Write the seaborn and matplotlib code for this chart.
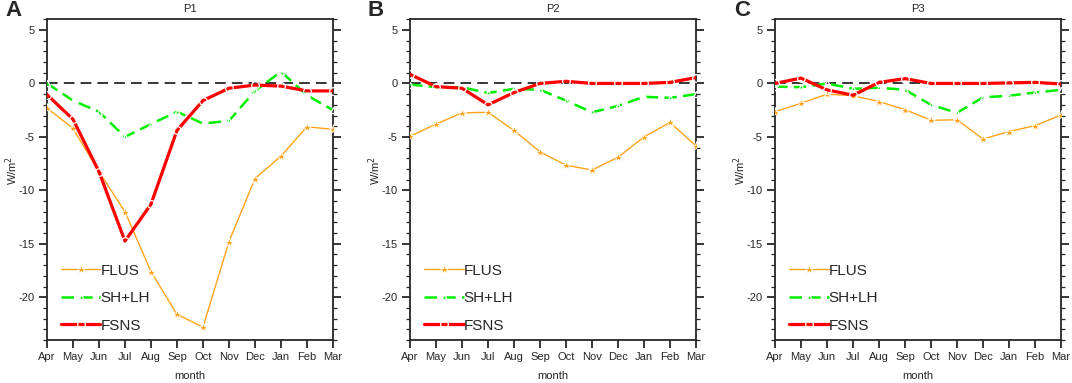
import numpy as np
import pandas as pd
import matplotlib
matplotlib.use("Agg")
import matplotlib.pyplot as plt
import seaborn as sns
from matplotlib.ticker import MultipleLocator

# --- data ---
months = ["Apr", "May", "Jun", "Jul", "Aug", "Sep", "Oct", "Nov", "Dec", "Jan", "Feb", "Mar"]
panels = ["P1", "P2", "P3"]
letters = ["A", "B", "C"]

p1_flus = [-2.3, -4.2, -8.25, -12.0, -17.6, -21.6, -22.8, -14.8, -8.9, -6.8, -4.05, -4.3]
p1_shlh = [0.0, -1.6, -2.65, -5.0, -3.8, -2.65, -3.75, -3.5, -0.7, 1.1, -1.1, -2.5]
p1_fsns = [-1.05, -3.35, -8.25, -14.75, -11.3, -4.4, -1.6, -0.45, -0.15, -0.25, -0.7, -0.7]

p2_flus = [-4.95, -3.8, -2.75, -2.7, -4.4, -6.4, -7.65, -8.1, -6.9, -5.0, -3.65, -5.85]
p2_shlh = [-0.1, -0.35, -0.35, -0.9, -0.5, -0.6, -1.6, -2.7, -2.1, -1.25, -1.35, -1.0]
p2_fsns = [0.85, -0.3, -0.45, -2.0, -0.85, 0.0, 0.2, 0.0, 0.0, 0.0, 0.1, 0.55]

p3_flus = [-2.65, -1.85, -1.0, -1.15, -1.7, -2.45, -3.45, -3.4, -5.2, -4.5, -3.95, -2.95]
p3_shlh = [-0.3, -0.35, 0.0, -0.5, -0.4, -0.6, -2.0, -2.75, -1.3, -1.15, -0.85, -0.6]
p3_fsns = [0.0, 0.5, -0.6, -1.1, 0.1, 0.45, 0.0, 0.0, 0.0, 0.05, 0.1, -0.05]

flus = [p1_flus, p2_flus, p3_flus]
shlh = [p1_shlh, p2_shlh, p3_shlh]
fsns = [p1_fsns, p2_fsns, p3_fsns]

# --- style ---
sns.set_style("ticks")
plt.rcParams['font.family'] = ['Liberation Sans', 'DejaVu Sans']
plt.rcParams['axes.unicode_minus'] = False

fig = plt.figure(figsize=(10.72, 3.83), dpi=100)
lefts = [0.0438, 0.3825, 0.723]
letter_x = [0.005, 0.343, 0.685]

for i in range(3):
    ax = fig.add_axes([lefts[i], 0.1123, 0.2668, 0.8373])
    df = pd.DataFrame({"x": np.arange(len(months)),
                       "FLUS": flus[i], "SH+LH": shlh[i], "FSNS": fsns[i]})

    ax.axhline(0, color="black", ls=(0, (7, 4)), lw=1.1, zorder=1)
    sns.lineplot(data=df, x="x", y="FLUS", ax=ax, color="#FFA31A", lw=1.0,
                 marker="*", markersize=6.5, markeredgewidth=0.6, label="FLUS", zorder=3)
    sns.lineplot(data=df, x="x", y="SH+LH", ax=ax, color="#00EE00", lw=1.8,
                 linestyle=(0, (5, 2.5)), marker="^", markersize=5,
                 markerfacecolor="none", markeredgewidth=0.9, label="SH+LH", zorder=4)
    sns.lineplot(data=df, x="x", y="FSNS", ax=ax, color="#FF0000", lw=2.3,
                 marker="o", markersize=5.5, markerfacecolor="none",
                 markeredgewidth=0.9, label="FSNS", zorder=5)

    ax.set_xlim(0, 11)
    ax.set_ylim(-24, 6)
    ax.set_xticks(np.arange(len(months)))
    ax.set_xticklabels(months)
    ax.yaxis.set_major_locator(MultipleLocator(5))
    ax.yaxis.set_minor_locator(MultipleLocator(1))
    ax.tick_params(axis="both", which="major", direction="out", length=6, width=1.3,
                   labelsize=8, pad=3)
    ax.tick_params(axis="y", which="minor", direction="out", length=3, width=0.9)
    ax.tick_params(axis="y", which="both", right=True)
    for sp in ax.spines.values():
        sp.set_visible(True)
        sp.set_linewidth(1.3)

    ax.set_xlabel("month", fontsize=8, labelpad=6)
    ax.set_ylabel("W/m$^2$", fontsize=8, va="center")
    ax.yaxis.set_label_coords(-0.125, 0.53)
    ax.set_title(panels[i], fontsize=8, pad=5)
    fig.text(letter_x[i], 0.972, letters[i], fontsize=16,
             fontweight="bold", va="center", ha="left")

    leg = ax.legend(loc="lower left", bbox_to_anchor=(0.0, -0.02), frameon=False,
                    fontsize=11, handlelength=2.6, handletextpad=0.0,
                    labelspacing=0.88, borderpad=0.4)

fig.savefig("out.png", dpi=100)
